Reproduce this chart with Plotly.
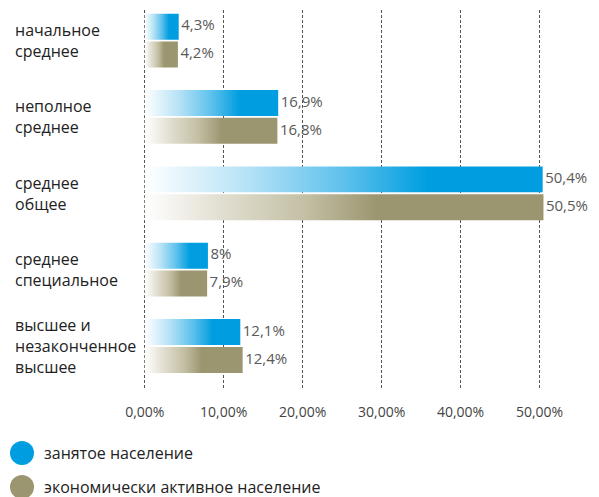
#### horizontal bar chart: education level of employed vs economically active population ####

import plotly.graph_objects as go

# data
categories = [
    "начальное<br>среднее",
    "неполное<br>среднее",
    "среднее<br>общее",
    "среднее<br>специальное",
    "высшее и<br>незаконченное<br>высшее",
]
series_names = ["занятое население", "экономически активное население"]
employed = [4.3, 16.9, 50.4, 8.0, 12.1]
active = [4.2, 16.8, 50.5, 7.9, 12.4]
tick_vals = [0, 10, 20, 30, 40, 50]
tick_text = [f"{t:.2f}".replace(".", ",") + "%" for t in tick_vals]

# styles
blue = "#009ee0"
olive = "#9c9670"
blue_scale = [[0, "#ffffff"], [0.25, "#b8e3f6"], [0.5, "#5ec1ec"], [0.71, blue], [1, blue]]
olive_scale = [[0, "#ffffff"], [0.2, "#e0ddcf"], [0.4, "#c4c0a5"], [0.58, olive], [1, olive]]

# layout in pixels
W, H = 599, 497
ml, mr, mt, mb = 142, 20, 10, 109
pw, ph = W - ml - mr, H - mt - mb

# bar geometry in category units (axis reversed, first category on top)
bar_h = 0.34
gap = 0.012


def px_x(p):
    return (p - ml) / pw


def px_y(p):
    return (H - mb - p) / ph


fig = go.Figure()

# each bar is its own filled polygon so the gradient runs over its own length
for vals, name, scale, side in [(employed, series_names[0], blue_scale, -1),
                                (active, series_names[1], olive_scale, 1)]:
    for i, v in enumerate(vals):
        if side < 0:
            y0, y1 = i - gap - bar_h, i - gap
        else:
            y0, y1 = i + gap, i + gap + bar_h
        fig.add_trace(go.Scatter(
            x=[0, v, v, 0, 0],
            y=[y0, y0, y1, y1, y0],
            mode="lines",
            line=dict(width=0),
            fill="toself",
            fillgradient=dict(type="horizontal", colorscale=scale),
            name=name,
            showlegend=False,
            hoverinfo="skip",
        ))
    # value labels
    fig.add_trace(go.Scatter(
        x=vals,
        y=[i + side * (gap + bar_h / 2) for i in range(len(vals))],
        mode="text",
        text=["\u2009" + f"{v:g}".replace(".", ",") + "%" for v in vals],
        textposition="middle right",
        textfont=dict(family="Open Sans", size=15, color="#595959"),
        cliponaxis=False,
        showlegend=False,
        hoverinfo="skip",
    ))

# category labels, left aligned
for i, c in enumerate(categories):
    fig.add_annotation(
        x=px_x(13), xref="paper", y=i, yref="y",
        text=c, showarrow=False, xanchor="left", align="left",
        font=dict(family="Open Sans", size=16, color="#222222"),
    )

# legend drawn by hand: large dots with labels
for k, (name, col) in enumerate(zip(series_names, [blue, olive])):
    cy = 453 + 34 * k
    fig.add_shape(
        type="circle", xref="paper", yref="paper",
        x0=px_x(10), x1=px_x(34), y0=px_y(cy + 12), y1=px_y(cy - 12),
        fillcolor=col, line=dict(width=0),
    )
    fig.add_annotation(
        x=px_x(42), xref="paper", y=px_y(cy), yref="paper",
        text=name, showarrow=False, xanchor="left", yanchor="middle",
        font=dict(family="Open Sans", size=16, color="#222222"),
    )

fig.update_layout(
    width=W,
    height=H,
    margin=dict(l=ml, r=mr, t=mt, b=mb, pad=0),
    paper_bgcolor="white",
    plot_bgcolor="white",
    xaxis=dict(
        range=[-0.35, 55],
        tickvals=tick_vals,
        ticktext=tick_text,
        showgrid=True,
        gridcolor="#555555",
        gridwidth=1,
        griddash="3px,2px",
        zeroline=False,
        showline=False,
        ticks="",
        ticklabelstandoff=14,
        tickfont=dict(family="Open Sans", size=14, color="#444444"),
    ),
    yaxis=dict(
        range=[4.55, -0.4],
        showgrid=False,
        zeroline=False,
        showticklabels=False,
        ticks="",
    ),
)

# page body margin would shift the figure, drop it
fig.write_html("out.html", config={"displayModeBar": False},
               post_script="document.body.style.margin='0';")
